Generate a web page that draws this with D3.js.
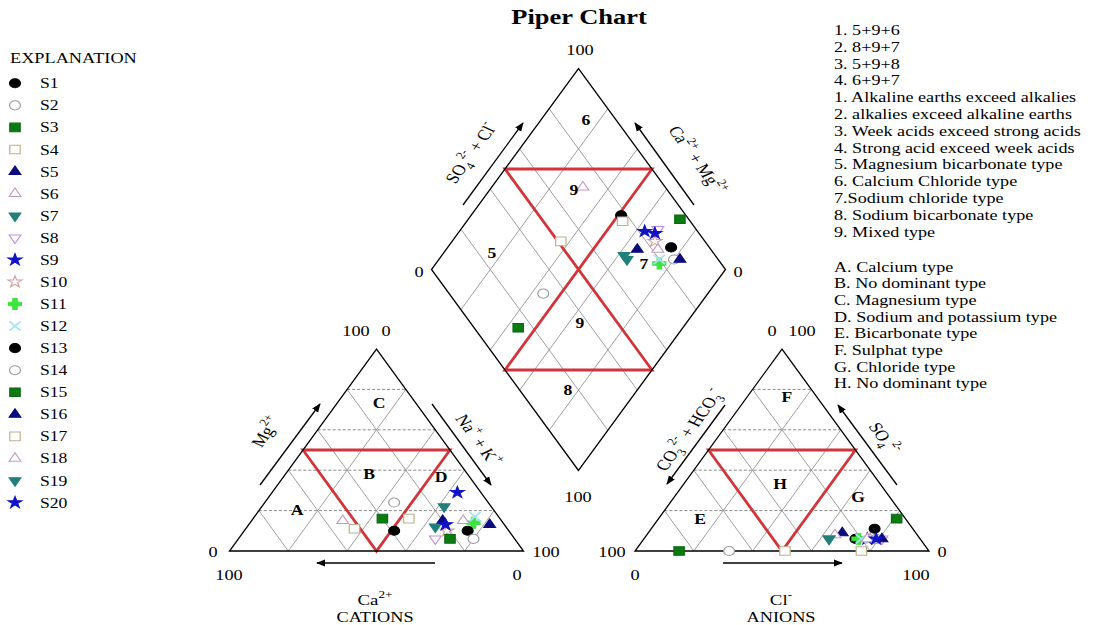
<!DOCTYPE html>
<html>
<head>
<meta charset="utf-8">
<script src="https://cdn.jsdelivr.net/npm/d3@7"></script>
<style>
	body { margin: 0; background: #fff; }
	svg { font-family: "Liberation Serif", "Times New Roman", serif; }
</style>
</head>
<body>
<svg id="chart" width="1093" height="625"></svg>
<script>
var samples = ["S1", "S2", "S3", "S4", "S5", "S6", "S7", "S8", "S9", "S10",
	"S11", "S12", "S13", "S14", "S15", "S16", "S17", "S18", "S19", "S20"];

// cations, % meq
var ca  = [39, 32, 40, 52, 20, 54, 16, 27,  8, 21, 10,  8, 14, 14, 22,  5, 31, 13, 24, 20];
var mg  = [10, 24, 16, 11, 15, 15, 22,  6, 29, 10, 14, 17, 10,  6,  6, 13, 16, 15, 12, 13];
var nak = [51, 44, 44, 37, 65, 31, 62, 67, 63, 69, 76, 75, 76, 80, 72, 82, 53, 72, 64, 67];

// anions, % meq
var hco3 = [22, 68, 85, 49, 25, 28, 31, 13, 18, 17, 21, 20, 13, 15,  3, 13, 23, 18, 31, 15];
var so4  = [ 6,  0,  0,  0,  9,  8,  6,  6,  6,  6,  6,  6, 11,  6, 16,  6,  0,  6,  6,  6];
var cl   = [72, 32, 15, 51, 66, 64, 63, 81, 76, 77, 73, 74, 76, 79, 81, 81, 77, 76, 63, 79];

var markerOf = ["dot", "ring", "greenSq", "openSq", "navyTri", "openTri", "tealDown", "openDown", "blueStar", "openStar",
	"cross", "times", "dot", "ring", "greenSq", "navyTri", "openSq", "openTri", "tealDown", "blueStar"];

var gridSteps = [20, 40, 60, 80];

var typeNotes = ["1. 5+9+6", "2. 8+9+7", "3. 5+9+8", "4. 6+9+7",
	"1. Alkaline earths exceed alkalies", "2. alkalies exceed alkaline earths",
	"3. Week acids exceed strong acids", "4. Strong acid exceed week acids",
	"5. Magnesium bicarbonate type", "6. Calcium Chloride type", "7.Sodium chloride type",
	"8. Sodium bicarbonate type", "9. Mixed type"];
var zoneNotes = ["A. Calcium type", "B. No dominant type", "C. Magnesium type",
	"D. Sodium and potassium type", "E. Bicarbonate type", "F. Sulphat type",
	"G. Chloride type", "H. No dominant type"];

var markers = {
	dot:      { type: d3.symbolCircle,   size: 65, fill: "#000",    stroke: "#000" },
	ring:     { type: d3.symbolCircle,   size: 65, fill: "#fff",    stroke: "#9a9a9a" },
	greenSq:  { type: d3.symbolSquare,   size: 75, fill: "#0b7a12", stroke: "#0b6a10" },
	openSq:   { type: d3.symbolSquare,   size: 75, fill: "#fff",    stroke: "#bbb28a" },
	navyTri:  { type: d3.symbolTriangle, size: 42, fill: "#0b0b7e", stroke: "#0b0b7e" },
	openTri:  { type: d3.symbolTriangle, size: 42, fill: "#fff",    stroke: "#c29ac4" },
	tealDown: { type: d3.symbolTriangle, size: 42, fill: "#21807a", stroke: "#21807a", rot: 180 },
	openDown: { type: d3.symbolTriangle, size: 42, fill: "#fff",    stroke: "#c58ee0", rot: 180 },
	blueStar: { type: d3.symbolStar,     size: 42, fill: "#1212c8", stroke: "#1212c8" },
	openStar: { type: d3.symbolStar,     size: 42, fill: "#fff",    stroke: "#d69c9c" },
	cross:    { type: d3.symbolCross,    size: 65, fill: "#3de43d", stroke: "#3de43d" },
	times:    { type: d3.symbolTimes,    size: 60, fill: "none",    stroke: "#a6e2ef" }
};

// the picture is wider than tall by this factor, text and marks included
var STRETCH = 1.26;

var svg = d3.select("#chart");

svg.append("defs").append("marker")
	.attr("id", "head")
	.attr("viewBox", "0 0 10 10")
	.attr("refX", 9).attr("refY", 5)
	.attr("markerWidth", 7).attr("markerHeight", 7)
	.attr("orient", "auto")
  .append("path")
	.attr("d", "M0,1 L10,5 L0,9 Z")
	.attr("fill", "#000");

// geometry
var W = 294, H = 202, BASE = 551;
var leftX = 229.5, rightX = 635;
var dBot = { x: 578.5, y: 470.5 }, DH = 201;

var tx = d3.scaleLinear().domain([0, 100]).range([0, W]);
var ty = d3.scaleLinear().domain([0, 100]).range([0, -H]);
var dx = d3.scaleLinear().domain([-100, 100]).range([-W / 2, W / 2]);
var dy = d3.scaleLinear().domain([0, 200]).range([0, -2 * DH]);

// ternary point: p = amount on right corner, q = amount on apex
function triPt(p, q) { return [tx(p + q / 2), ty(q)]; }
// diamond point: a = Ca+Mg, b = SO4+Cl
function diaPt(a, b) { return [dx(b - a), dy(a + b)]; }

var line = d3.line();

function drawTriangle(g) {
	gridSteps.forEach(function (k) {
		g.append("path").attr("d", line([triPt(0, k), triPt(100 - k, k)]))
			.attr("stroke", "#6a6a6a").attr("stroke-width", 0.8).attr("stroke-dasharray", "3,2").attr("fill", "none");
		g.append("path").attr("d", line([triPt(k, 0), triPt(k, 100 - k)]))
			.attr("stroke", "#888").attr("stroke-width", 0.8).attr("fill", "none");
		g.append("path").attr("d", line([triPt(100 - k, 0), triPt(0, 100 - k)]))
			.attr("stroke", "#888").attr("stroke-width", 0.8).attr("fill", "none");
	});
	g.append("path").attr("d", line([triPt(0, 50), triPt(50, 50), triPt(50, 0)]) + "Z")
		.attr("stroke", "#d2343a").attr("stroke-width", 2.8).attr("fill", "none");
	g.append("path").attr("d", line([triPt(0, 0), triPt(100, 0), triPt(0, 100)]) + "Z")
		.attr("stroke", "#000").attr("stroke-width", 1.3).attr("fill", "none");
}

function drawMarker(g, i, p) {
	var m = markers[markerOf[i]];
	g.append("path")
		.attr("d", d3.symbol().type(m.type).size(m.size)())
		.attr("transform", "translate(" + p[0] + "," + p[1] + ") scale(1.2,1)" + (m.rot ? " rotate(" + m.rot + ")" : ""))
		.attr("fill", m.fill)
		.attr("stroke", m.stroke)
		.attr("stroke-width", m.type === d3.symbolTimes ? 1.6 : 1);
}

var cat = svg.append("g").attr("transform", "translate(" + leftX + "," + BASE + ")");
var ani = svg.append("g").attr("transform", "translate(" + rightX + "," + BASE + ")");
var dia = svg.append("g").attr("transform", "translate(" + dBot.x + "," + dBot.y + ")");

drawTriangle(cat);
drawTriangle(ani);

gridSteps.forEach(function (k) {
	dia.append("path").attr("d", line([diaPt(k, 0), diaPt(k, 100)]))
		.attr("stroke", "#888").attr("stroke-width", 0.8).attr("fill", "none");
	dia.append("path").attr("d", line([diaPt(0, k), diaPt(100, k)]))
		.attr("stroke", "#888").attr("stroke-width", 0.8).attr("fill", "none");
});
dia.append("path").attr("d", line([diaPt(100, 50), diaPt(50, 100), diaPt(50, 0), diaPt(0, 50)]) + "Z")
	.attr("stroke", "#d2343a").attr("stroke-width", 2.8).attr("fill", "none");
dia.append("path").attr("d", line([diaPt(0, 0), diaPt(100, 0), diaPt(100, 100), diaPt(0, 100)]) + "Z")
	.attr("stroke", "#000").attr("stroke-width", 1.3).attr("fill", "none");

samples.forEach(function (s, i) {
	drawMarker(cat, i, triPt(nak[i], mg[i]));
	drawMarker(ani, i, triPt(cl[i], so4[i]));
	drawMarker(dia, i, diaPt(ca[i] + mg[i], so4[i] + cl[i]));
});

// text helpers
function plain(x, y, str, size, opts) {
	opts = opts || {};
	return svg.append("text")
		.attr("transform", "translate(" + x + "," + y + ") scale(" + STRETCH + ",1)")
		.attr("text-anchor", opts.anchor || "middle")
		.style("font-size", size + "px")
		.style("font-weight", opts.bold ? "bold" : null)
		.text(str);
}

function rich(x, y, rot, parts, size) {
	var t = svg.append("text")
		.attr("transform", "translate(" + x + "," + y + ") scale(" + STRETCH + ",1) rotate(" + rot + ")")
		.attr("text-anchor", "middle")
		.attr("y", 5)
		.style("font-size", size + "px");
	var shift = 0;
	parts.forEach(function (p) {
		var want = p[1] === "sup" ? -size * 0.5 : p[1] === "sub" ? size * 0.3 : 0;
		t.append("tspan")
			.attr("dy", want - shift)
			.style("font-size", p[1] ? (size * 0.7) + "px" : null)
			.text(p[0]);
		shift = want;
	});
}

function arrow(x1, y1, x2, y2) {
	svg.append("line")
		.attr("x1", x1).attr("y1", y1).attr("x2", x2).attr("y2", y2)
		.attr("stroke", "#000").attr("stroke-width", 1.3)
		.attr("marker-end", "url(#head)");
}

plain(579, 24, "Piper Chart", 21, { bold: true });

// tick labels
[[356, 336, "100"], [386, 336, "0"], [213, 557, "0"], [229, 580, "100"], [517, 580, "0"], [546, 557, "100"],
 [772, 336, "0"], [802, 336, "100"], [612, 557, "100"], [635, 580, "0"], [916, 580, "100"], [942, 557, "0"],
 [580, 55, "100"], [419, 277, "0"], [738, 277, "0"], [578, 502, "100"]].forEach(function (d) {
	plain(d[0], d[1], d[2], 14.5);
});

// zone labels
[[586, 125, "6"], [492, 258, "5"], [574, 195, "9"], [644, 269, "7"], [580, 328, "9"], [568, 395, "8"],
 [379, 408, "C"], [369, 479, "B"], [297, 515, "A"], [441, 482, "D"],
 [787, 402, "F"], [780, 489, "H"], [858, 502, "G"], [700, 524, "E"]].forEach(function (d) {
	plain(d[0], d[1], d[2], 14, { bold: true });
});

// axis titles and arrows
rich(266, 432, -60, [["Mg"], ["2+", "sup"]], 15);
arrow(260, 485, 320, 404);
rich(478, 440, 60, [["Na"], ["+", "sup"], [" + K"], ["+", "sup"]], 15);
arrow(432, 404, 491, 485);
arrow(435, 563, 317, 563);
rich(375, 600, 0, [["Ca"], ["2+", "sup"]], 15);
plain(375, 622, "CATIONS", 14.5);

rich(689, 430, -60, [["CO"], ["3", "sub"], ["2-", "sup"], [" + HCO"], ["3", "sub"], ["-", "sup"]], 15);
arrow(725, 405, 667, 484);
rich(884, 438, 60, [["SO"], ["4", "sub"], ["2-", "sup"]], 15);
arrow(897, 485, 838, 405);
arrow(723, 563, 842, 563);
rich(781, 600, 0, [["Cl"], ["-", "sup"]], 15);
plain(781, 622, "ANIONS", 14.5);

rich(471, 153, -60, [["SO"], ["4", "sub"], ["2-", "sup"], [" + Cl"], ["-", "sup"]], 15);
arrow(463, 205, 523, 123);
rich(697, 160, 60, [["Ca"], ["2+", "sup"], [" + Mg"], ["2+", "sup"]], 15);
arrow(694, 205, 635, 123);

// legend
plain(10, 63, "EXPLANATION", 14.5, { anchor: "start" });
var legend = svg.append("g");
samples.forEach(function (s, i) {
	var y = 83.3 + i * 22.07;
	drawMarker(legend, i, [15, y]);
	plain(40, y + 5, s, 14, { anchor: "start" });
});

// notes on the right
typeNotes.forEach(function (t, i) {
	plain(834, 35 + i * 16.8, t, 14.4, { anchor: "start" });
});
zoneNotes.forEach(function (t, i) {
	plain(834, 271.5 + i * 16.7, t, 14.4, { anchor: "start" });
});
</script>
</body>
</html>
